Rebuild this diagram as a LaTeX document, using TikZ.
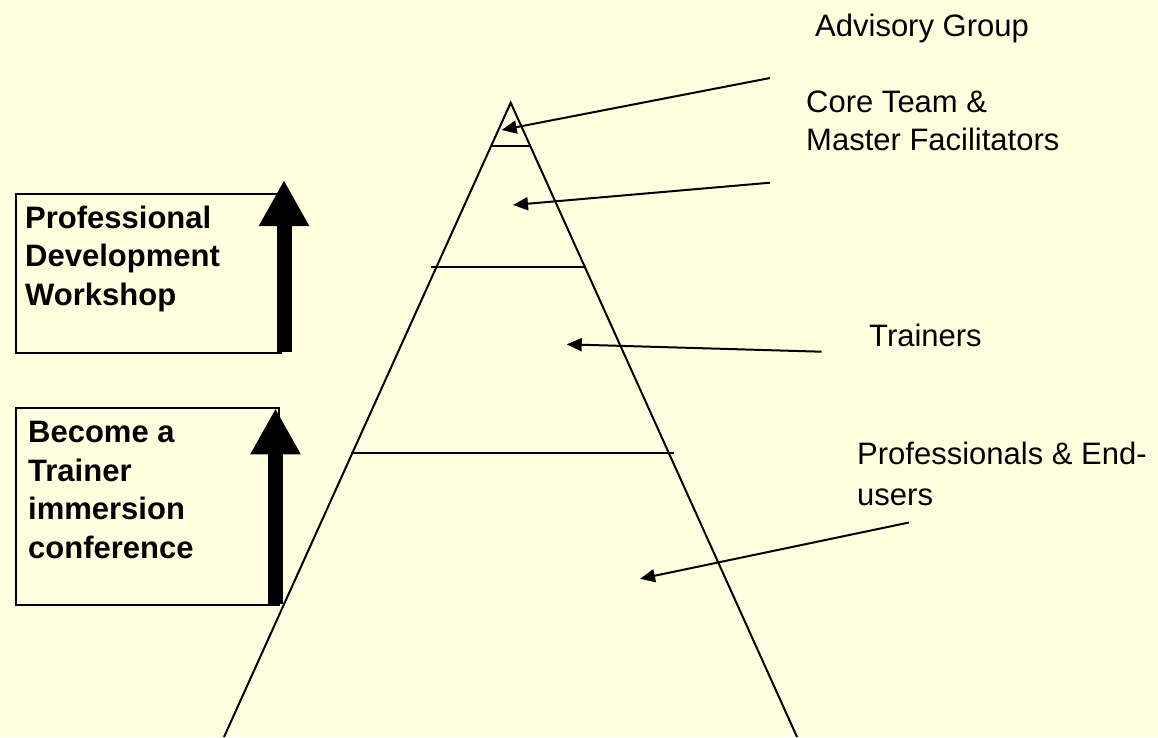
\documentclass[tikz,border=0pt]{standalone}
\usepackage{fontspec}
\setmainfont{Liberation Sans}
\usetikzlibrary{arrows.meta}
\definecolor{paper}{RGB}{255,255,224}

\tikzset{
  lbl/.style={anchor=base west, inner sep=0pt, align=left, font=\fontsize{31}{38}\selectfont},
  boxlbl/.style={anchor=base west, inner sep=0pt, align=left, font=\fontsize{31}{38.5}\selectfont\bfseries},
  frame/.style={draw, line width=2pt, anchor=north west, inner sep=0pt},
  level/.style={line width=2pt},
  pointer/.style={-{Triangle[length=15pt,width=13pt]}, line width=2pt},
  bigup/.style={-{Triangle[length=46pt,width=47pt]}, line width=15pt}
}

\begin{document}
\begin{tikzpicture}[x=1pt,y=-1pt]
    \fill[paper] (0,0) rectangle (1158,737);
    \useasboundingbox (0,0) rectangle (1158,737);

    % pyramid
    \coordinate (apex) at (510.7,102.7);
    \coordinate (baseL) at (224,737);
    \coordinate (baseR) at (797,737);
    \draw[level] (baseL) -- (apex) -- (baseR);

    \coordinate (topL) at (491,146);
    \coordinate (topR) at (530,146);
    \coordinate (midL) at (431,267);
    \coordinate (midR) at (586,267);
    \coordinate (lowL) at (351,453);
    \coordinate (lowR) at (674,453);
    \draw[level] (topL) -- (topR);
    \draw[level] (midL) -- (midR);
    \draw[level] (lowL) -- (lowR);

    % labels on the right (multi-line ones sit on their last baseline)
    \node[lbl] (advisory) at (815,36) {Advisory Group};
    \node[lbl] (core) at (806,150.7) {Core Team \&\\Master Facilitators};
    \node[lbl] (trainers) at (869,346.7) {Trainers};
    \node[lbl, font=\fontsize{31}{40.5}\selectfont] (endusers) at (857,505) {Professionals \& End-\\users};

    % pointers into the pyramid
    \coordinate (advS) at (770,78);
    \coordinate (advE) at (501.7,130);
    \coordinate (coreS) at (770,182.7);
    \coordinate (coreE) at (513,205);
    \coordinate (trnS) at (821.7,351.7);
    \coordinate (trnE) at (566.7,344.3);
    \coordinate (endS) at (909,522.5);
    \coordinate (endE) at (640,578.8);
    \draw[pointer] (advS) -- (advE);
    \draw[pointer] (coreS) -- (coreE);
    \draw[pointer] (trnS) -- (trnE);
    \draw[pointer] (endS) -- (endE);

    % boxes on the left
    \node[frame, minimum width=265pt, minimum height=159pt] (pdwbox) at (15,192.7) {};
    \node[frame, minimum width=263pt, minimum height=196.7pt] (trainbox) at (15,407.3) {};
    \node[boxlbl] (pdw) at (25,305) {Professional\\Development\\Workshop};
    \node[boxlbl] (become) at (28,558) {Become a\\Trainer\\immersion\\conference};

    % big arrows
    \coordinate (pdwS) at (284,351.7);
    \coordinate (pdwE) at (284,180);
    \coordinate (becS) at (275.5,604);
    \coordinate (becE) at (275.5,408.3);
    \draw[bigup] (pdwS) -- (pdwE);
    \draw[bigup] (becS) -- (becE);

\end{tikzpicture}
\end{document}
